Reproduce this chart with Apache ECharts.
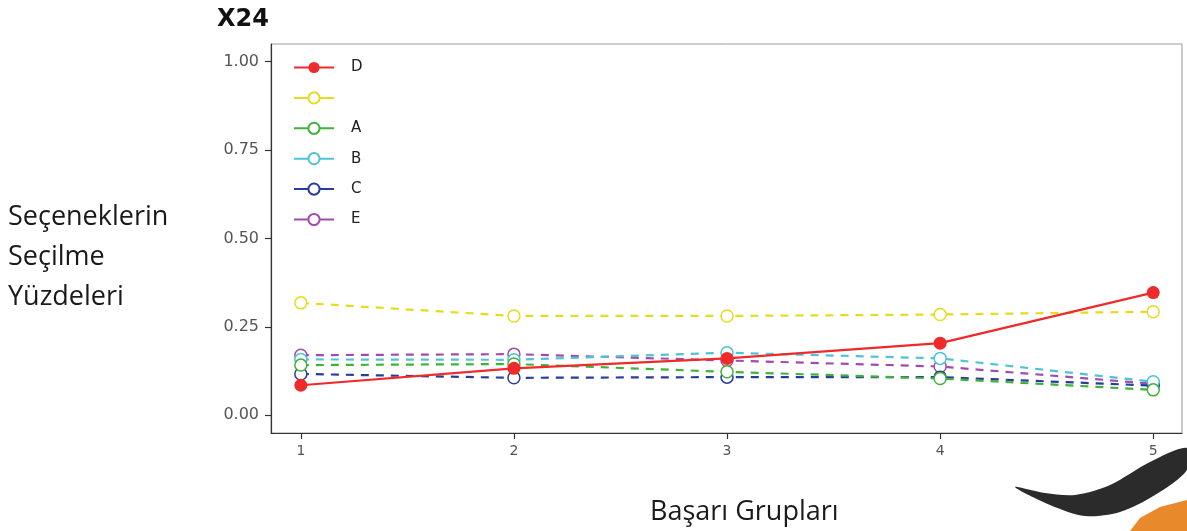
<!DOCTYPE html>
<html>
<head>
<meta charset="utf-8">
<script src="https://cdn.jsdelivr.net/npm/echarts@6/dist/echarts.min.js"></script>
<style>
html,body{margin:0;padding:0;background:#fff;}
#chart{width:1187px;height:531px;}
</style>
</head>
<body>
<div id="chart"></div>
<script>
const groups = [1, 2, 3, 4, 5];
const yTicks = [0, 0.25, 0.5, 0.75, 1.0];
const seriesNames = ['D', ' ', 'A', 'B', 'C', 'E'];
const valD = [0.085, 0.133, 0.161, 0.204, 0.347];
const valBlank = [0.318, 0.281, 0.281, 0.285, 0.293];
const valA = [0.142, 0.145, 0.123, 0.104, 0.072];
const valB = [0.158, 0.157, 0.177, 0.161, 0.095];
const valC = [0.117, 0.106, 0.108, 0.108, 0.084];
const valE = [0.170, 0.173, 0.155, 0.138, 0.089];
const titleText = 'X24';
const yAxisText = ['Seçeneklerin', 'Seçilme', 'Yüzdeleri'];
const xAxisText = 'Başarı Grupları';

const colors = {
  'D': '#ee2a2a',
  ' ': '#e6dc1e',
  'A': '#3fb23c',
  'B': '#4ec3d4',
  'C': '#283c9c',
  'E': '#a04cae'
};
const values = { 'D': valD, ' ': valBlank, 'A': valA, 'B': valB, 'C': valC, 'E': valE };

function mk(name, z) {
  const solid = name === 'D';
  return {
    name: name,
    type: 'line',
    z: z,
    data: groups.map((g, i) => [g, values[name][i]]),
    symbol: 'circle',
    symbolSize: solid ? 13 : 12,
    showAllSymbol: true,
    lineStyle: { color: colors[name], width: 2.2, type: solid ? 'solid' : [8, 7] },
    itemStyle: { color: solid ? colors[name] : '#ffffff', borderColor: colors[name], borderWidth: solid ? 0 : 1.5 },
    emphasis: { disabled: true },
    animation: false
  };
}

const drawOrder = ['E', 'C', 'B', 'A', ' ', 'D'];
const series = drawOrder.map((n, i) => mk(n, 2 + i));

const chart = echarts.init(document.getElementById('chart'), null, { renderer: 'canvas' });
chart.setOption({
  backgroundColor: '#ffffff',
  animation: false,
  title: {
    text: titleText,
    left: 212, top: 3,
    textStyle: { fontFamily: 'DejaVu Sans', fontWeight: 'bold', fontSize: 24, color: '#111' }
  },
  grid: { left: 271, top: 44, width: 911, height: 389, show: true, borderColor: '#9a9a9a', borderWidth: 1, backgroundColor: '#ffffff' },
  legend: {
    data: seriesNames,
    orient: 'vertical',
    left: 288, top: 55,
    itemWidth: 40, itemHeight: 14, itemGap: 15.4,
    lineStyle: { type: 'solid', width: 2 },
    textStyle: { fontFamily: 'DejaVu Sans', fontSize: 15, color: '#222', padding: [0, 0, 0, 12] },
    selectedMode: false
  },
  xAxis: {
    type: 'value',
    min: 0.86, max: 5.135,
    splitLine: { show: false },
    axisLine: { show: true, onZero: false, lineStyle: { color: '#333', width: 1.2 } },
    axisTick: { show: true, length: 6, customValues: groups, lineStyle: { color: '#333', width: 1.2 } },
    axisLabel: { customValues: groups, fontFamily: 'DejaVu Sans', fontSize: 14, color: '#555', margin: 11 }
  },
  yAxis: {
    type: 'value',
    min: -0.05, max: 1.05,
    splitLine: { show: false },
    axisLine: { show: true, onZero: false, lineStyle: { color: '#333', width: 1.2 } },
    axisTick: { show: true, length: 6, customValues: yTicks, lineStyle: { color: '#333', width: 1.2 } },
    axisLabel: { customValues: yTicks, formatter: v => v.toFixed(2), fontFamily: 'DejaVu Sans', fontSize: 16, color: '#555', margin: 12 }
  },
  graphic: [
    { type: 'text', left: 8, top: 197, style: { text: yAxisText.join('\n'), font: '27px "Open Sans"', lineHeight: 40, fill: '#1a1a1a' } },
    { type: 'text', left: 650, top: 499, style: { text: xAxisText, font: '27px "Open Sans"', fill: '#1a1a1a' } },
    { type: 'polygon', z: -1, shape: { smooth: 0.3, points: [[1015,487],[1050,505],[1085,516],[1120,512],[1155,495],[1187,470],[1187,448],[1150,462],[1110,485],[1075,495],[1045,493]] }, style: { fill: '#2b2b2b' } },
    { type: 'polygon', z: -1, shape: { points: [[1130,531],[1140,518],[1160,507],[1187,500],[1187,531]] }, style: { fill: '#e8892c' } }
  ],
  series: series
});
</script>
</body>
</html>
